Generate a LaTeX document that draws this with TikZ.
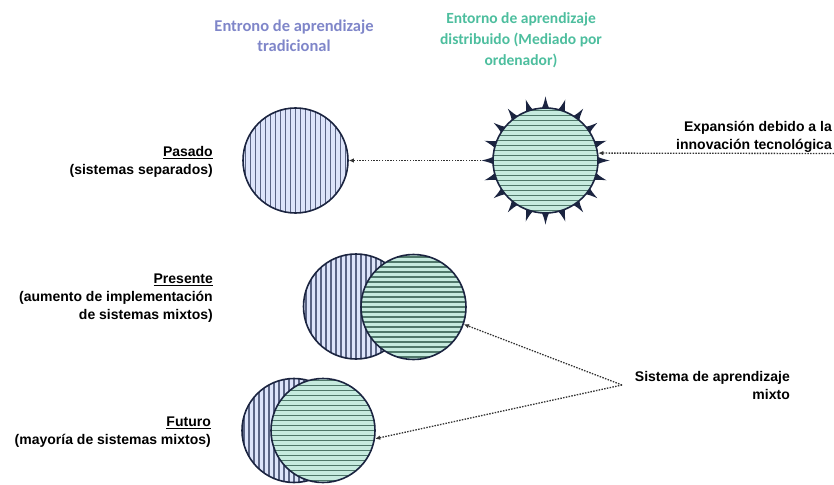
\documentclass[tikz,border=0pt]{standalone}
\usepackage{fontspec}
\setmainfont{Liberation Sans}
\newfontfamily\hdrfont{Carlito}
\usetikzlibrary{arrows.meta,calc}
\definecolor{navy}{HTML}{1B2440}
\definecolor{bluefill}{HTML}{DDE4FA}
\definecolor{bluehatch}{HTML}{5A6484}
\definecolor{greenfill}{HTML}{C6EBDF}
\definecolor{greenhatch}{HTML}{4F786A}
\definecolor{hdrblue}{HTML}{7F86C9}
\definecolor{hdrgreen}{HTML}{4DBE9E}
\definecolor{dotgray}{HTML}{333333}
\tikzset{
  tradcirc/.style={circle, inner sep=0pt, minimum size=105pt, draw=navy, line width=1.6pt, fill=bluefill,
    path picture={\foreach \k in {-60,-55,...,60}
      \draw[bluehatch, line width=1.3pt] ([xshift=\k pt]path picture bounding box.north) -- ([xshift=\k pt]path picture bounding box.south);}},
  distcirc/.style={circle, inner sep=0pt, minimum size=105pt, draw=navy, line width=1.6pt, fill=greenfill,
    path picture={\foreach \k in {-60,-55,...,60}
      \draw[greenhatch, line width=1.3pt] ([yshift=\k pt]path picture bounding box.west) -- ([yshift=\k pt]path picture bounding box.east);}},
  lbl/.style={font=\bfseries\fontsize{14}{18}\selectfont, align=right, inner sep=0pt},
  hdr/.style={font=\hdrfont\bfseries\fontsize{15.5}{21}\selectfont, align=center, inner sep=0pt},
  dotarrow/.style={dash pattern=on 1.5pt off 1.3pt, dotgray, line width=1.3pt, -{Latex[length=5pt,width=4.5pt]}},
}
\begin{document}
\begin{tikzpicture}[x=1pt,y=-1pt]
\useasboundingbox (0,0) rectangle (834,484);
% headers
\node[hdr, text=hdrblue, font=\hdrfont\bfseries\fontsize{16.5}{20}\selectfont] (h1) at (294,36) {Entrono de aprendizaje\\tradicional};
\node[hdr, text=hdrgreen] (h2) at (521,40) {Entorno de aprendizaje\\distribuido (Mediado por\\ordenador)};
% pasado
\node[tradcirc] (pb) at (295.5,160.5) {};
\coordinate (sunc) at (545.5,160.5);
\foreach \a in {0,18,...,342}
  \fill[navy] ($(sunc)+({\a-5.5}:50pt)$) .. controls ($(sunc)+({\a-2}:56pt)$) .. ($(sunc)+(\a:64pt)$)
     .. controls ($(sunc)+({\a+2}:56pt)$) .. ($(sunc)+({\a+5.5}:50pt)$) -- cycle;
\node[distcirc] (sun) at (sunc) {};
% presente
\node[tradcirc] (prb) at (356,306.5) {};
\node[distcirc] (prg) at (413.5,307) {};
% futuro
\node[tradcirc, minimum size=104pt] (fb) at (294,430.5) {};
\node[distcirc, minimum size=104pt] (fg) at (323,430.5) {};
% labels
\node[lbl, anchor=east] (lp) at (213,162) {\underline{Pasado}\\(sistemas separados)};
\node[lbl, anchor=east] (lpr) at (213,298.5) {\underline{Presente}\\(aumento de implementación\\de sistemas mixtos)};
\node[lbl, anchor=east] (lf) at (211,432.5) {\underline{Futuro}\\(mayoría de sistemas mixtos)};
\node[lbl, anchor=east] (le) at (832,136.5) {Expansión debido a la\\innovación tecnológica};
\node[lbl, anchor=east] (lm) at (790,385) {Sistema de aprendizaje\\mixto};
% connectors
\coordinate (rend) at (834,153.5);
\coordinate (mix) at (622,385);
\draw[dotarrow] ([xshift=-11pt]sun.west) -- (pb.east);
\draw[dotarrow] (rend) -- (sun.8);
\draw[dotarrow] (mix) -- (prg.-19);
\draw[dotarrow] (mix) -- (fg.-9);
\end{tikzpicture}
\end{document}
